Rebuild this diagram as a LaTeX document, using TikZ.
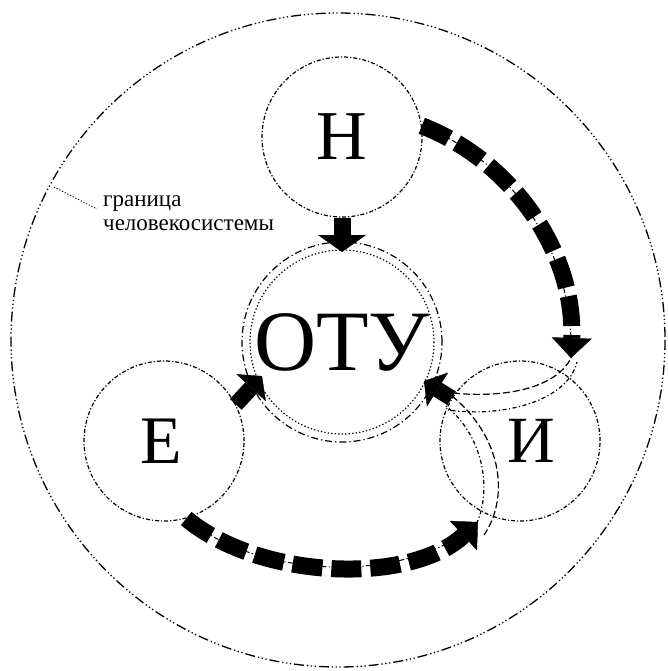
\documentclass[tikz,border=0pt]{standalone}
\usepackage{fontspec}
\setmainfont{Liberation Serif}
\usetikzlibrary{arrows.meta}
\begin{document}
\begin{tikzpicture}[x=1pt,y=-1pt,
  outerc/.style={line width=1.3pt, dash pattern=on 10pt off 3pt on 1.3pt off 2.5pt on 1.3pt off 2.5pt on 1.3pt off 3pt},
  bubble/.style={circle, draw, minimum size=160pt, inner sep=0pt, line width=1.2pt,
    dash pattern=on 4pt off 2pt on 1.2pt off 2pt},
  hub/.style={circle, draw, minimum size=200pt, inner sep=0pt, line width=1.2pt,
    dash pattern=on 7pt off 3pt on 1.2pt off 3pt},
  ringdot/.style={line width=1.2pt, dash pattern=on 1.3pt off 2.2pt},
  guide/.style={line width=1pt, dash pattern=on 5pt off 2.5pt on 1.2pt off 2.5pt},
  lensdash/.style={line width=1.2pt, dash pattern=on 7pt off 3pt},
  lensdot/.style={line width=1.2pt, dash pattern=on 1.2pt off 2.5pt on 4pt off 2.5pt},
  fatarrow/.style={line width=17pt, -{Triangle[width=48pt,length=17pt,line width=0.4pt]}},
  smallarrow/.style={line width=16pt, -{Triangle[width=40pt,length=16pt,line width=0.4pt]}},
  dasharrow/.style={line width=17pt, dash pattern=on 30pt off 9pt,
    -{Triangle[width=40pt,length=20pt,line width=0.4pt]}},
  leader/.style={line width=0.9pt, dash pattern=on 1.2pt off 1.8pt}
]
\useasboundingbox (0,0) rectangle (668,671);

% outer boundary
\draw[outerc] (338,340) circle[radius=327];

% nodes
\node[bubble, font=\fontsize{70}{70}\selectfont] (N) at (342,137) {Н};
\node[hub, font=\fontsize{86}{86}\selectfont] (OTU) at (342,342) {ОТУ};
\draw[ringdot] (OTU.center) circle[radius=92];
\node[bubble, font=\fontsize{68}{68}\selectfont] (E) at (164,441) {\hspace*{-6pt}Е};
\node[bubble, font=\fontsize{66}{66}\selectfont] (I) at (520,441) {\hspace*{22pt}И};

% label
\coordinate (L0) at (54,187);
\coordinate (L1) at (97,209);
\draw[leader] (L0) -- (L1);
\node[anchor=base west, align=left, inner sep=0pt,
  font=\fontsize{23}{24}\selectfont] (lab) at (103,230) {граница\\человекосистемы};

% arrow tip points
\coordinate (HI) at (571,358);
\coordinate (EI) at (478,522);
\coordinate (NT) at (342,252);
\coordinate (ET) at (262,376);
\coordinate (IT) at (424,381);

% thin guide lines under thick dashed arcs
\draw[guide] (N.8) .. controls (510,160) and (575,250) .. (HI);
\draw[guide] (E.-74) .. controls (260,580) and (410,585) .. (EI);

% lens curves near И
\draw[lensdash] (453,393) .. controls (500,398) and (555,390) .. (HI);
\draw[lensdot] (448,410) .. controls (505,418) and (568,400) .. (577,362);
\draw[lensdash] (452,396) .. controls (505,440) and (508,500) .. (484,535);
\draw[lensdot] (446,406) .. controls (488,440) and (492,500) .. (473,530);

% thick dashed arrows
\draw[dasharrow] (N.8) .. controls (510,160) and (575,250) .. (HI);
\draw[dasharrow] (E.-74) .. controls (260,580) and (410,585) .. (EI);

% short arrows to ОТУ
\draw[fatarrow] (N.south) -- (NT);
\draw[smallarrow] (E.27) -- (ET);
\draw[smallarrow] (I.148) -- (IT);
\end{tikzpicture}
\end{document}
